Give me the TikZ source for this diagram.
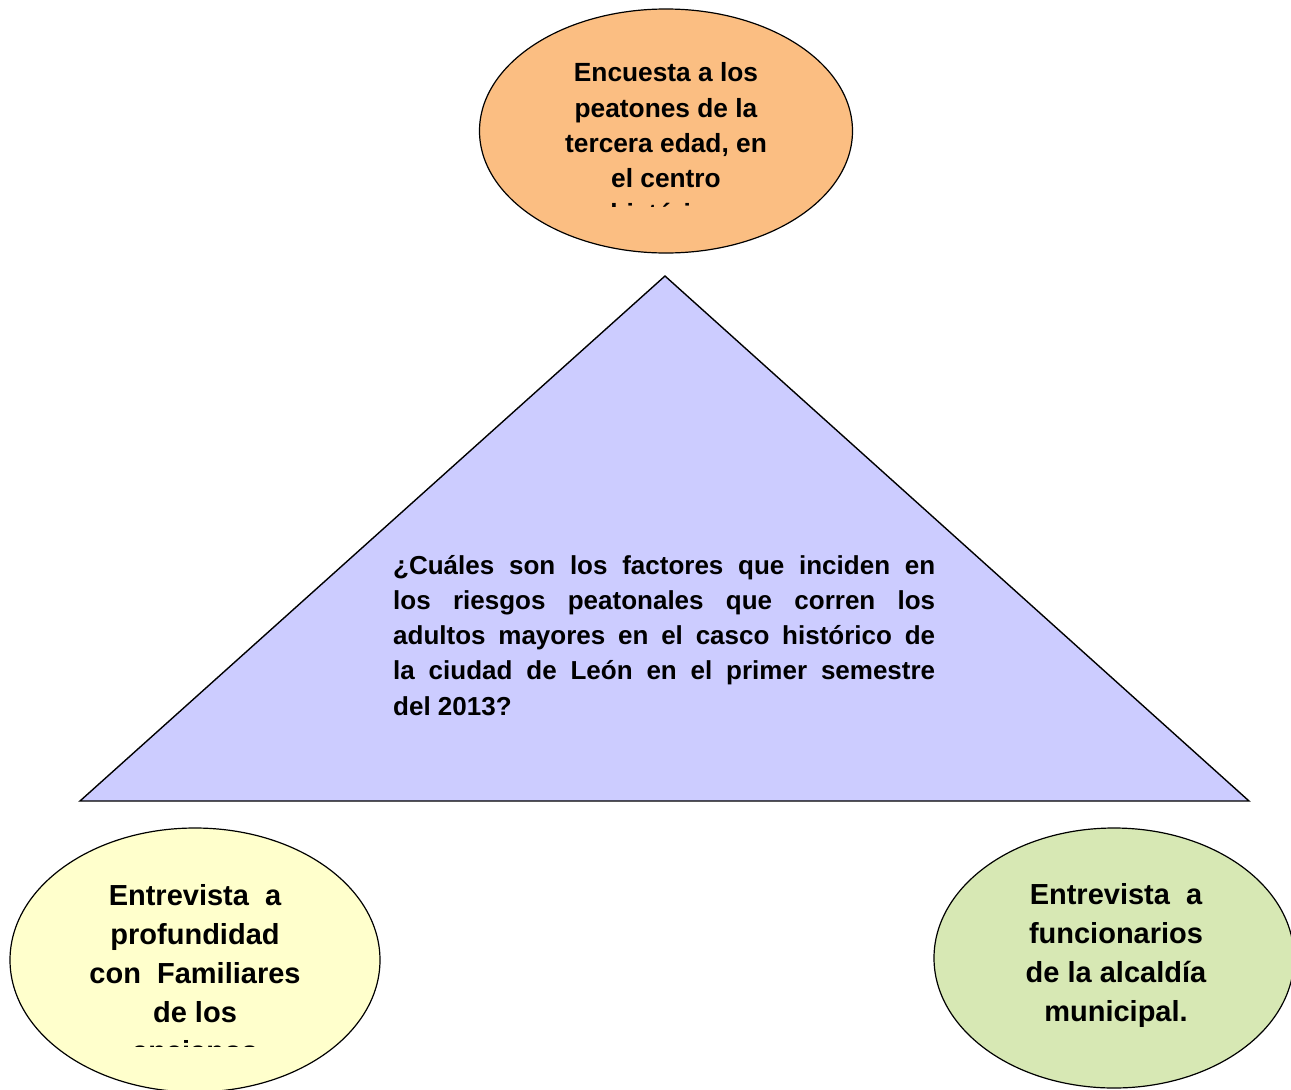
\documentclass[tikz,border=0pt]{standalone}
\usepackage{fontspec}
\setmainfont{Liberation Sans}
\usetikzlibrary{shapes.geometric}
\definecolor{naranja}{HTML}{FBBE82}
\definecolor{lila}{HTML}{CCCCFF}
\definecolor{crema}{HTML}{FFFFCC}
\definecolor{verde}{HTML}{D7E8B4}
\tikzset{
  globo/.style={ellipse,draw=black,line width=1.2pt,inner sep=0pt},
}
\begin{document}
\begin{tikzpicture}[x=1pt,y=-1pt]
	\useasboundingbox (0,0) rectangle (1291,1090);
	% triangulo central
	\coordinate (apice) at (665,276);
	\coordinate (izq) at (80,801);
	\coordinate (der) at (1249,801);
	\draw[fill=lila,line width=1.4pt,line join=miter](apice)--(izq)--(der)--cycle;
	\node[inner sep=0pt,anchor=north west,text width=542pt,align=justify,font=\bfseries\fontsize{26}{35.2}\selectfont](pregunta) at (393,555){\hyphenpenalty=10000 ¿Cuáles son los factores que inciden en\linebreak los riesgos peatonales que corren los\linebreak adultos mayores en el casco histórico de\linebreak la ciudad de León en el primer semestre\linebreak del 2013?};
	% elipses
	\node[globo,fill=naranja,minimum width=373pt,minimum height=244pt](encuesta) at (666,131){};
	\node[globo,fill=crema,minimum width=370pt,minimum height=264pt](familiares) at (195,960){};
	\node[globo,fill=verde,minimum width=360pt,minimum height=260pt](funcionarios) at (1114,958){};
	\begin{scope}
		\clip (480,40) rectangle (853,206);
		\node[anchor=north,font=\bfseries\fontsize{26.3}{35.3}\selectfont,inner sep=0pt,align=center](encuestatxt) at (666,62.5){Encuesta a los\\peatones de la\\tercera edad, en\\el centro\\histórico};
	\end{scope}
	\begin{scope}
		\clip (10,860) rectangle (380,1046);
		\node[anchor=north,font=\bfseries\fontsize{29}{39}\selectfont,inner sep=0pt,align=center](familiarestxt) at (195,884){Entrevista\ \ a\\profundidad\\con\ \ Familiares\\de los\\ancianos};
	\end{scope}
	\node[anchor=north,font=\bfseries\fontsize{29}{39}\selectfont,inner sep=0pt,align=center](funcionariostxt) at (1116,883){Entrevista\ \ a\\funcionarios\\de la alcaldía\\municipal.};
\end{tikzpicture}
\end{document}
